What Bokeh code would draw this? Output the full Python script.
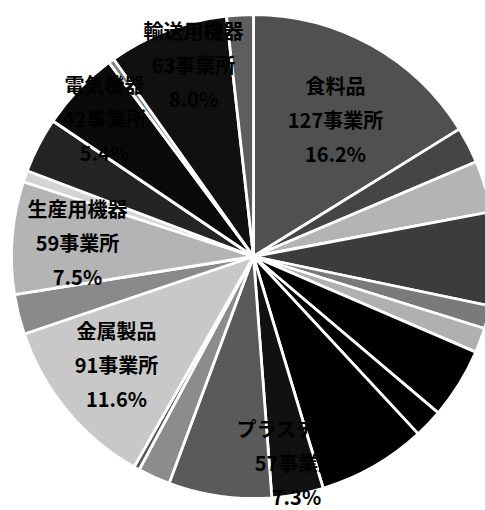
import math
from bokeh.plotting import figure
from bokeh.models import Range1d, ColumnDataSource
from bokeh.core.properties import value
from bokeh.embed import file_html
from bokeh.resources import INLINE

# ---- data (clockwise from 12 o'clock) ----
categories = ["食料品", "分類B", "分類C", "分類D", "分類E", "分類F", "分類G", "分類H",
              "プラスチック", "分類J", "分類K", "分類L", "分類M", "金属製品", "分類O",
              "生産用機器", "分類Q", "分類R", "電気機器", "分類T", "輸送用機器", "分類V"]
counts = [127, 19, 27, 49, 12, 13, 37, 15, 57, 27, 54, 17, 3, 91, 21, 59, 6, 29, 42, 3, 63, 14]
labelled = ["食料品", "プラスチック", "金属製品", "生産用機器", "電気機器", "輸送用機器"]
unit = "事業所"

# ---- styles / layout ----
colors = ["#505050", "#454545", "#b4b4b4", "#3c3c3c", "#7a7a7a", "#b0b0b0", "#000000", "#000000",
          "#000000", "#111111", "#5a5a5a", "#8c8c8c", "#555555", "#c8c8c8", "#8a8a8a",
          "#b4b4b4", "#d4d4d4", "#242424", "#0a0a0a", "#808080", "#101010", "#5e5e5e"]
W, H = 485, 510
CX, CY_TOP, R = 253, 256, 242
# label anchors in page pixels (x centre, y of first line)
label_pos = {
    "食料品": (335, 85),
    "プラスチック": (296, 428),
    "金属製品": (116, 330),
    "生産用機器": (77, 208),
    "電気機器": (104, 84),
    "輸送用機器": (193, 30),
}
LINE = 34
FONT = "Noto Sans CJK JP"

total = sum(counts)
start, end = [], []
cum = 0
for c in counts:
    start.append(math.pi / 2 - 2 * math.pi * cum / total)
    cum += c
    end.append(math.pi / 2 - 2 * math.pi * cum / total)

src = ColumnDataSource(dict(cat=categories, n=counts, start=start, end=end, color=colors))

p = figure(width=W, height=H, output_backend="svg", toolbar_location=None,
           x_range=Range1d(0, W), y_range=Range1d(0, H), min_border=0,
           outline_line_color=None, background_fill_color="white")
p.axis.visible = False
p.grid.visible = False

p.wedge(x=CX, y=H - CY_TOP, radius=R, start_angle="start", end_angle="end", direction="clock",
        fill_color="color", line_color="white", line_width=2.8, source=src)

tx, ty, tt = [], [], []
for name in labelled:
    i = categories.index(name)
    n = counts[i]
    pct = f"{n / total * 100:.1f}%"
    px, py = label_pos[name]
    for k, line in enumerate([name, f"{n}{unit}", pct]):
        tx.append(px)
        ty.append(H - (py + k * LINE))
        tt.append(line)

p.text(x=tx, y=ty, text=tt, text_align="center", text_baseline="middle",
       text_font=value(FONT), text_font_size="20px", text_font_style="bold",
       text_color="black")

open("out.html", "w").write(file_html(p, INLINE))
